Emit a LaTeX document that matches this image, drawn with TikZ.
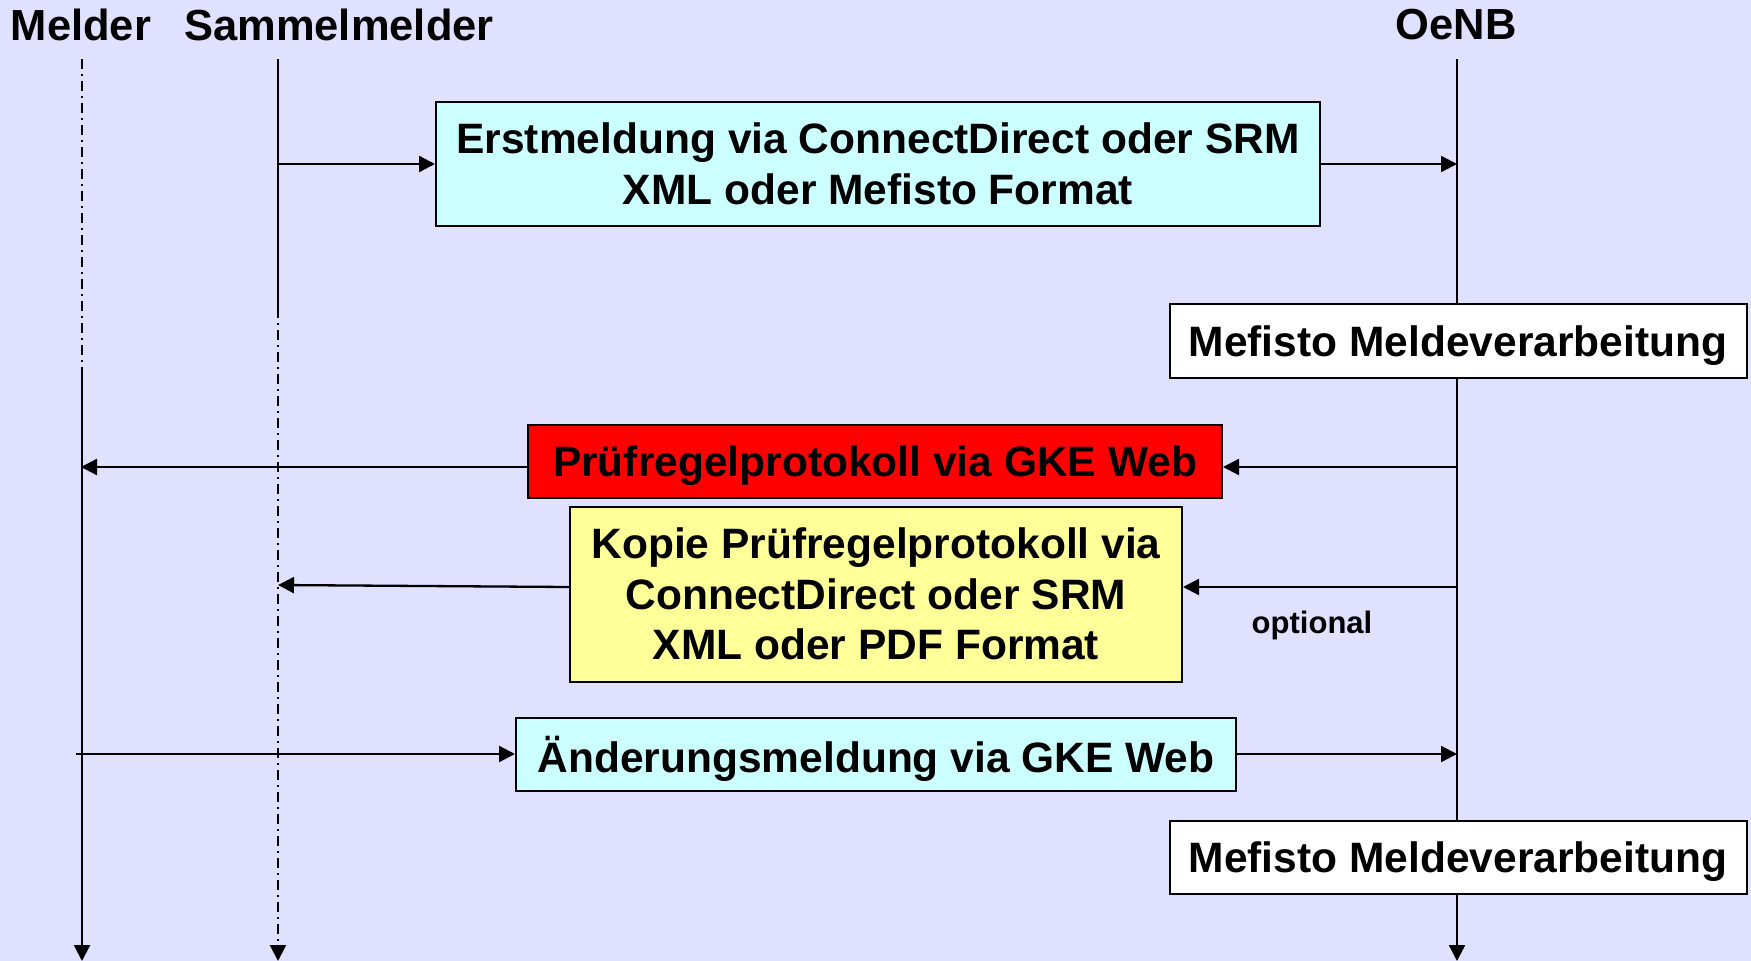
\documentclass[tikz,border=0pt]{standalone}
\usepackage{fontspec}
\setmainfont{Liberation Sans}
\usetikzlibrary{arrows.meta}
\definecolor{bgviolet}{RGB}{224,224,255}
\definecolor{msgcyan}{RGB}{204,255,255}
\definecolor{msgyellow}{RGB}{255,255,153}
\begin{document}
\begin{tikzpicture}[x=1pt,y=-1pt,
  lifeline/.style={line width=2.3pt},
  dashdot/.style={line width=2.3pt,dash pattern=on 10pt off 5pt on 2pt off 5pt},
  msg/.style={line width=2.3pt,-{Triangle[length=16pt,width=16pt]}},
  actor/.style={font=\bfseries\fontsize{43.5}{46}\selectfont},
  msgbox/.style={draw,line width=2pt,align=center,inner sep=0pt,
    font=\bfseries\fontsize{42.5}{50.5}\selectfont},
  oneline/.style={msgbox,text depth=0pt}]
  \useasboundingbox (0,0) rectangle (1751,961);
  \fill[bgviolet] (0,0) rectangle (1751,961);

  \draw (81,25) node[actor](melder_text){Melder};
  \draw (339,25) node[actor](sammel_text){Sammelmelder};
  \draw (1456,25) node[actor](oenb_text){OeNB};

  \coordinate (melder) at (82,59);
  \coordinate (sammel) at (278,59);
  \coordinate (oenb) at (1457,59);

  \draw[dashdot] (melder) -- (82,376);
  \draw[msg] (82,376) -- (82,961);
  \draw[lifeline] (sammel) -- (278,308);
  \draw[dashdot,msg] (278,308) -- (278,961);
  \draw[msg] (oenb) -- (1457,961);

  \draw (878,164) node[msgbox,fill=msgcyan,minimum width=884,minimum height=124](erst)
    {Erstmeldung via ConnectDirect oder SRM\\XML oder Mefisto Format};
  \draw (1458,341) node[oneline,fill=white,minimum width=577,minimum height=74](mefisto_1)
    {Mefisto Meldeverarbeitung};
  \draw (875,461) node[oneline,fill=red,minimum width=694,minimum height=73](pruef)
    {Prüfregelprotokoll via GKE Web};
  \draw (876,594) node[msgbox,fill=msgyellow,minimum width=612,minimum height=175](kopie)
    {Kopie Prüfregelprotokoll via\\ConnectDirect oder SRM\\XML oder PDF Format};
  \draw (876,754) node[oneline,fill=msgcyan,minimum width=720,minimum height=73](aend)
    {Änderungsmeldung via GKE Web};
  \draw (1458,857) node[oneline,fill=white,minimum width=577,minimum height=73](mefisto_2)
    {Mefisto Meldeverarbeitung};

  \draw[msg] (sammel |- erst.west) -- (erst.west);
  \draw[msg] (erst.east) -- (oenb |- erst.east);
  \draw[msg] (oenb |- pruef.east) ++(0,6) -- ([yshift=-6pt]pruef.east);
  \draw[msg] ([yshift=-6pt]pruef.west) -- ++(-446,0);
  \draw[msg] (oenb |- kopie.east) ++(0,-7) -- ([yshift=7pt]kopie.east);
  \draw[msg] ([yshift=7pt]kopie.west) -- (278,585);
  \draw[msg] ([xshift=-6pt]melder |- aend.west) -- (aend.west);
  \draw[msg] (aend.east) -- (oenb |- aend.east);

  \draw (1312,625) node[font=\bfseries\fontsize{31}{34}\selectfont](optional){optional};
\end{tikzpicture}
\end{document}
